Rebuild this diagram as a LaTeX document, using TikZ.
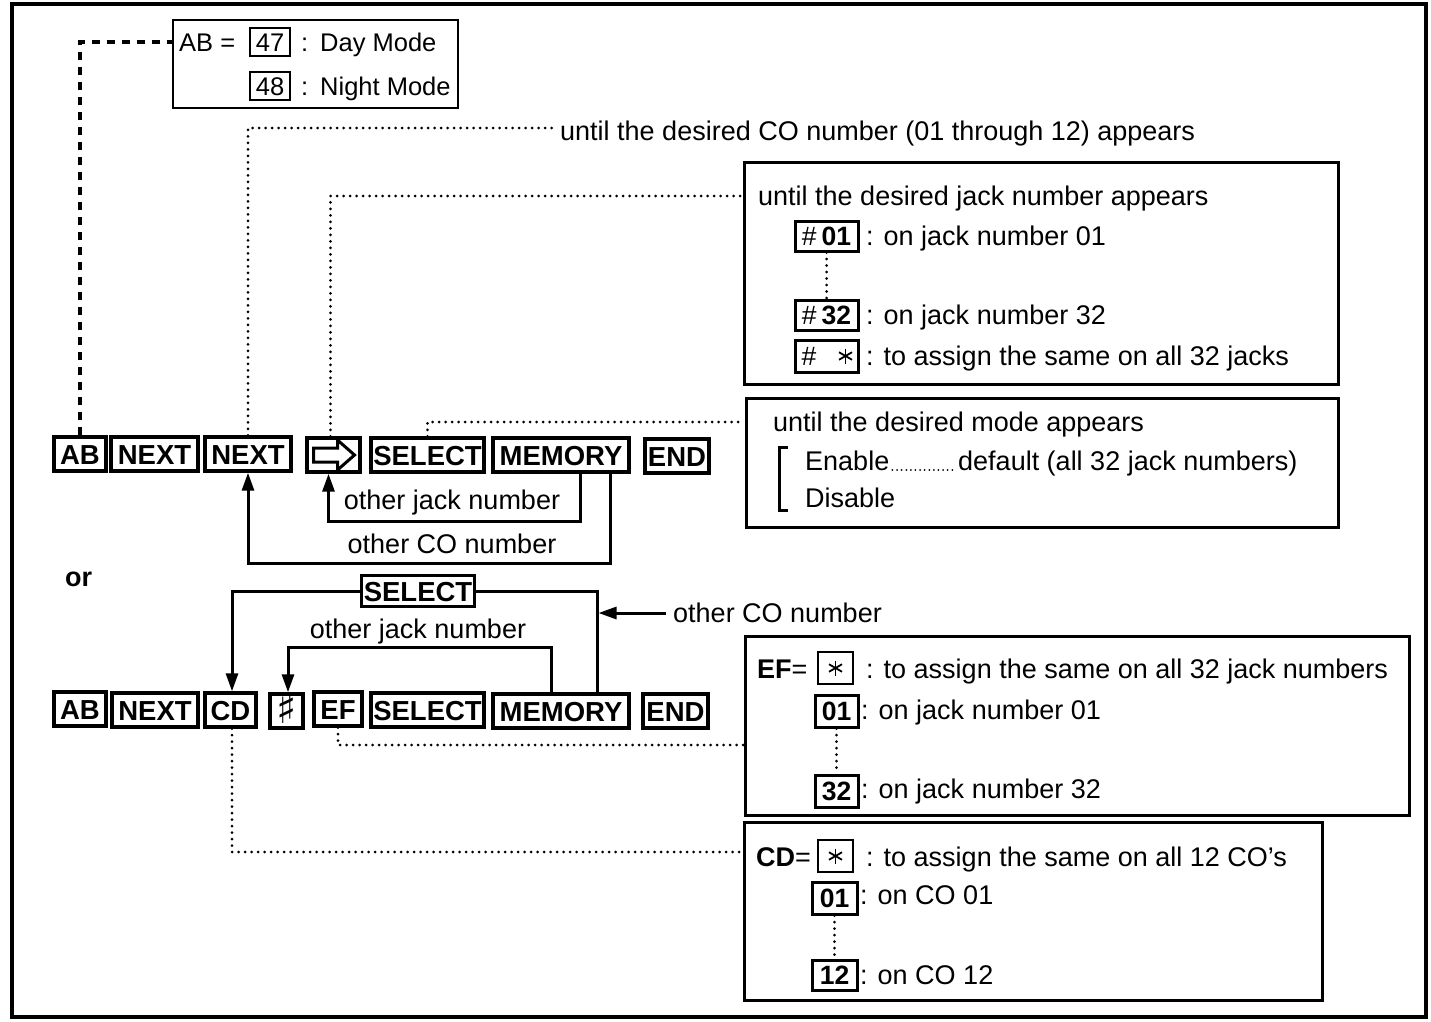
\documentclass[tikz,border=0pt]{standalone}
\usepackage{fontspec}
\setmainfont{Liberation Sans}
\newfontfamily\djv{DejaVu Sans}
\usetikzlibrary{arrows.meta,calc}
\newcommand\drawstar[2]{% node name, xshift
  \foreach \aa in {90,30,-30}
    \draw[line width=1.8pt] ([xshift=#2, shift={(\aa:7.5pt)}]#1.center) -- ([xshift=#2, shift={(\aa+180:7.5pt)}]#1.center);}
\begin{document}
\begin{tikzpicture}[x=1pt,y=-1pt,
  every node/.style={font=\fontsize{27}{32}\selectfont, inner sep=0pt},
  txt/.style={anchor=west, text height=19pt, text depth=0pt},
  key/.style={draw, line width=3.4pt, minimum height=34pt, text height=20pt, text depth=0pt, font=\fontsize{27.5}{32}\selectfont\bfseries},
  sbox/.style={draw, line width=3pt, minimum height=30pt, text height=19pt, text depth=0pt, font=\fontsize{26.5}{30}\selectfont\bfseries},
  starbox/.style={draw, line width=2.8pt, minimum width=35pt, minimum height=32pt},
  panel/.style={draw, line width=3pt},
  conn/.style={line width=3pt},
  arrowline/.style={conn, -{Triangle[length=18pt,width=12pt]}},
  dotl/.style={line width=3pt, dash pattern=on 0pt off 6.5pt, line cap=round},
  dashl/.style={line width=3.2pt, dash pattern=on 8pt off 7pt},
  leader/.style={line width=2pt, dash pattern=on 0pt off 4.6pt, line cap=round},
]
\useasboundingbox (0,0) rectangle (1431,1021);
\draw[line width=3.6pt] (12,4) rectangle (1426,1017);

% ---------- top-left AB box
\node[panel, line width=2.4pt, minimum width=285pt, minimum height=88pt] (abbox) at (315.5,64) {};
\node[txt, font=\fontsize{25.5}{30}\selectfont] (abeq) at (179,42) {AB =};
\node[draw, line width=2.8pt, minimum width=40pt, minimum height=28pt, text height=18pt, text depth=0pt, font=\fontsize{25.5}{30}\selectfont] (k47) at (270,42) {47};
\node[txt, font=\fontsize{25.5}{30}\selectfont] (c47) at (301,42) {:};
\node[txt, font=\fontsize{25.5}{30}\selectfont] (day) at (320,42) {Day Mode};
\node[draw, line width=2.8pt, minimum width=40pt, minimum height=28pt, text height=18pt, text depth=0pt, font=\fontsize{25.5}{30}\selectfont] (k48) at (270,86) {48};
\node[txt, font=\fontsize{25.5}{30}\selectfont] (c48) at (301,86) {:};
\node[txt, font=\fontsize{25.5}{30}\selectfont] (night) at (320,86) {Night Mode};

% ---------- row 1 keys
\node[key, minimum width=52pt] (ab1) at (80,454) {AB};
\node[key, minimum width=87pt] (nx1) at (154.5,454) {NEXT};
\node[key, minimum width=86pt] (nx2) at (248,454) {NEXT};
\node[key, minimum width=53pt] (arrkey) at (333.5,455) {};
\begin{scope}[shift={(arrkey.center)}]
  \draw[line width=3pt, line join=miter] (-20,-7) -- (4,-7) -- (4,-15) -- (21,0) -- (4,15) -- (4,7) -- (-20,7) -- cycle;
\end{scope}
\node[key, minimum width=113pt] (sel1) at (427.5,455) {SELECT};
\node[key, minimum width=136pt] (mem1) at (561,455) {MEMORY};
\node[key, minimum width=64pt] (end1) at (677,456) {END};

\draw[dashl] (ab1.north) |- (abbox.west |- abeq.west);

\node[txt] (cotext) at (560,131) {until the desired CO number (01 through 12) appears};
\draw[dotl] (nx2.north) |- ([xshift=-4pt,yshift=3pt]cotext.west);

\node[txt, anchor=center] (ojn1) at (452,500) {other jack number};
\node[txt, anchor=center] (oco1) at (452,544) {other CO number};
\draw[arrowline] ([xshift=19pt]mem1.south) -- ++(0,48) -| ([xshift=-5pt]arrkey.south);
\draw[arrowline] ([xshift=49pt]mem1.south) -- ++(0,90) -| (nx2.south);

% ---------- jack box
\node[panel, minimum width=594pt, minimum height=222pt] (jackbox) at (1041,273) {};
\node[txt] (jt) at (758,196) {until the desired jack number appears};
\draw[dotl] ([xshift=-3pt]arrkey.north) |- (jackbox.west |- jt.west);
\node[sbox, minimum width=63pt] (j01) at (826.5,236) {{\mdseries\#}\hspace{5pt}01};
\node[txt] (j01t) at (866,236) {: on jack number 01};
\node[sbox, minimum width=63pt] (j32) at (826.5,315) {{\mdseries\#}\hspace{5pt}32};
\node[txt] (j32t) at (866,315) {: on jack number 32};
\node[sbox, minimum width=63pt, minimum height=32pt] (jall) at (826.5,356) {\makebox[50pt][l]{\mdseries\#}};
\drawstar{jall}{19pt}
\node[txt] (jallt) at (866,356) {: to assign the same on all 32 jacks};
\draw[dotl] (j01.south) -- (j32.north);

% ---------- mode box
\node[panel, minimum width=592pt, minimum height=129pt] (modebox) at (1042,462.5) {};
\node[txt] (mt) at (773,422) {until the desired mode appears};
\draw[dotl] (sel1.north) |- (modebox.west |- mt.west);
\draw[line width=3pt] (788,447) -- (779,447) -- (779,510) -- (788,510);
\node[txt] (en) at (805,461) {Enable};
\node[txt] (def) at (958,461) {default (all 32 jack numbers)};
\draw[leader] ([xshift=3pt,yshift=-9pt]en.east) -- ([xshift=-2pt,yshift=-9pt]def.west);
\node[txt] (dis) at (805,498) {Disable};

% ---------- or
\node[txt, font=\fontsize{27}{32}\selectfont\bfseries] (or) at (65,577) {or};

% ---------- row 2 keys
\node[key, minimum width=52pt] (ab2) at (80,709) {AB};
\node[key, minimum width=86pt] (nx3) at (155,710) {NEXT};
\node[key, minimum width=51pt] (cd) at (230.5,710) {CD};
\node[key, minimum width=33pt, text height=24pt, font=\fontsize{42}{46}\selectfont\djv] (sh) at (286.5,711) {♯};
\node[key, minimum width=48pt] (ef) at (338,709) {EF};
\node[key, minimum width=113pt] (sel2) at (427.5,710) {SELECT};
\node[key, minimum width=136pt] (mem2) at (561,711) {MEMORY};
\node[key, minimum width=65pt] (end2) at (675.5,711) {END};

\node[key, minimum width=113pt, minimum height=31pt] (selT) at (418,591) {SELECT};
\draw[arrowline] (selT.west) -| ([xshift=1.5pt]cd.north);
\coordinate (mr) at ([xshift=36pt]mem2.north);
\draw[conn] (mr) |- (selT.east);
\node[txt] (oco2) at (673,613) {other CO number};
\draw[arrowline] ([xshift=-7pt]oco2.west) -- ([xshift=1.5pt]oco2.west -| mr);
\node[txt, anchor=center] (ojn2) at (418,629) {other jack number};
\draw[arrowline] ([xshift=-10pt]mem2.north) -- ++(0,-45) -| ([xshift=1.5pt]sh.north);

% ---------- EF box
\node[panel, minimum width=664pt, minimum height=179pt] (efbox) at (1077,725.5) {};
\node[txt] (efeq) at (757,669) {\textbf{EF}=};
\node[starbox] (efs) at (835.5,668) {};
\drawstar{efs}{0pt}
\node[txt] (efst) at (866,669) {: to assign the same on all 32 jack numbers};
\node[sbox, minimum width=43pt, minimum height=32pt] (e01) at (836.5,711) {01};
\node[txt] (e01t) at (861,710) {: on jack number 01};
\node[sbox, minimum width=43pt, minimum height=32pt] (e32) at (836.5,791) {32};
\node[txt] (e32t) at (861,789) {: on jack number 32};
\draw[dotl] (e01.south) -- (e32.north);
\draw[dotl] (ef.south) |- (efbox.west |- 0,745);

% ---------- CD box
\node[panel, minimum width=578pt, minimum height=178pt] (cdbox) at (1033,911) {};
\node[txt] (cdeq) at (756,857) {\textbf{CD}=};
\node[starbox] (cds) at (835.5,856) {};
\drawstar{cds}{0pt}
\node[txt] (cdst) at (866,857) {: to assign the same on all 12 CO’s};
\node[sbox, minimum width=45pt, minimum height=32pt] (c01) at (834.5,898) {01};
\node[txt] (c01t) at (860,895) {: on CO 01};
\node[sbox, minimum width=45pt, minimum height=30pt] (c12) at (834.5,975) {12};
\node[txt] (c12t) at (860,975) {: on CO 12};
\draw[dotl] (c01.south) -- (c12.north);
\draw[dotl] ([xshift=1.5pt]cd.south) |- (cdbox.west |- 0,852);
\end{tikzpicture}
\end{document}
